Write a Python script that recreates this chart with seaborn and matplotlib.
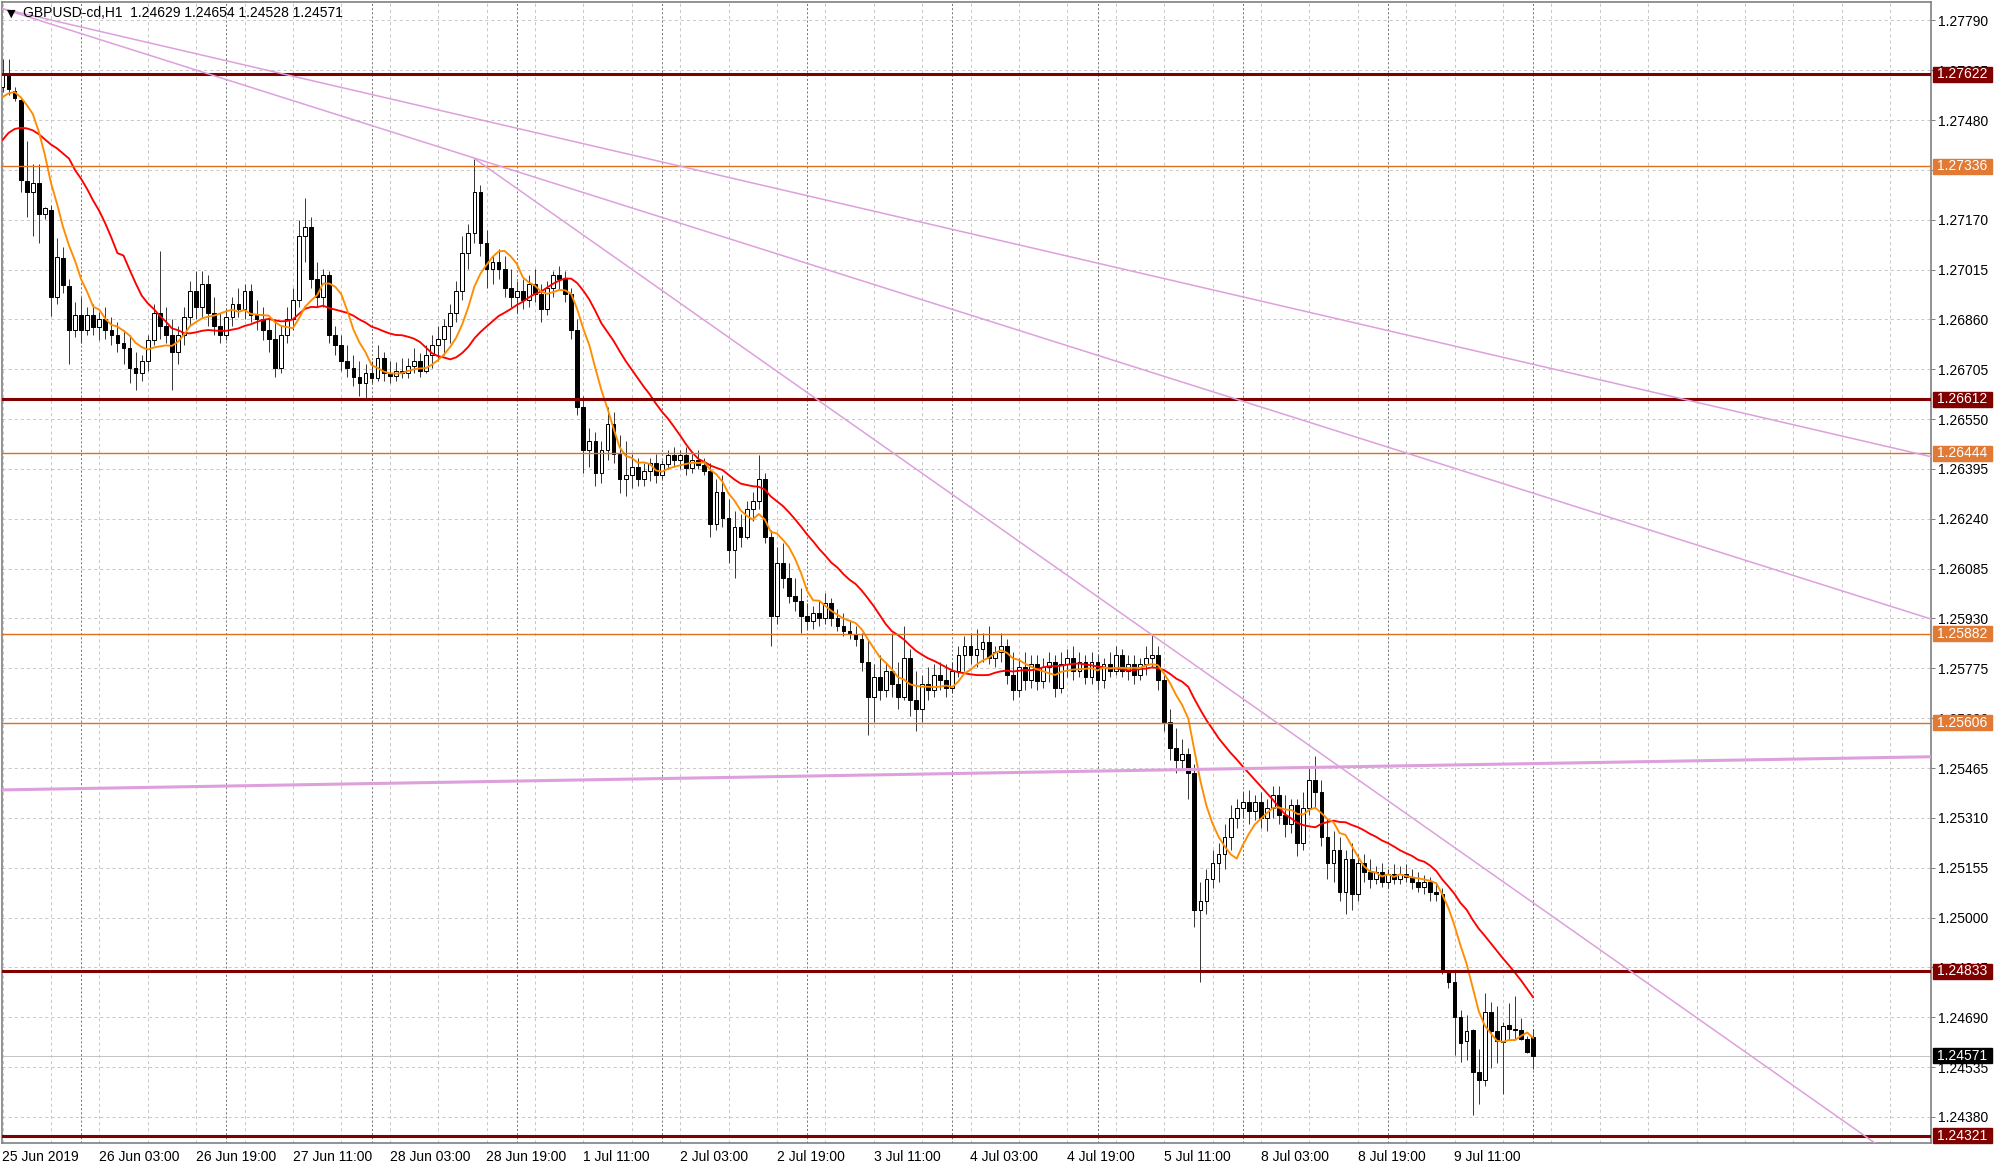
import numpy as np
import pandas as pd
import matplotlib
matplotlib.use("Agg")
import matplotlib.pyplot as plt
import matplotlib.transforms as mtransforms
from matplotlib.patches import Rectangle
import seaborn as sns

# ---------------- data ----------------
chart_title = "GBPUSD-cd,H1  1.24629 1.24654 1.24528 1.24571"
start_time = "2019-06-25 11:00"
end_time = "2019-07-10 00:00"

opens = [1.27583, 1.27626, 1.27571, 1.27543, 1.27289, 1.27257, 1.27285, 1.27189, 1.27201, 1.26931,
         1.27050, 1.26963, 1.26828, 1.26875, 1.26828, 1.26875, 1.26836, 1.26860, 1.26828, 1.26812,
         1.26788, 1.26772, 1.26708, 1.26693, 1.26732, 1.26796, 1.26880, 1.26840, 1.26812, 1.26760,
         1.26812, 1.26867, 1.26947, 1.26899, 1.26971, 1.26880, 1.26840, 1.26812, 1.26867, 1.26907,
         1.26891, 1.26947, 1.26875, 1.26860, 1.26828, 1.26800, 1.26708, 1.26812, 1.26860, 1.26919,
         1.27118, 1.27146, 1.26987, 1.26931, 1.26999, 1.26812, 1.26780, 1.26732, 1.26708, 1.26681,
         1.26661, 1.26693, 1.26677, 1.26740, 1.26693, 1.26685, 1.26701, 1.26693, 1.26716, 1.26732,
         1.26701, 1.26748, 1.26780, 1.26800, 1.26840, 1.26880, 1.26947, 1.27066, 1.27130, 1.27257,
         1.27098, 1.27018, 1.27038, 1.27018, 1.26959, 1.26931, 1.26947, 1.26919, 1.26971, 1.26939,
         1.26891, 1.26959, 1.26999, 1.26987, 1.26939, 1.26828, 1.26589, 1.26454, 1.26482, 1.26383,
         1.26454, 1.26534, 1.26442, 1.26363, 1.26375, 1.26402, 1.26363, 1.26390, 1.26414, 1.26375,
         1.26410, 1.26438, 1.26422, 1.26438, 1.26398, 1.26422, 1.26406, 1.26390, 1.26224, 1.26323,
         1.26244, 1.26144, 1.26216, 1.26184, 1.26271, 1.26295, 1.26363, 1.26184, 1.25938, 1.26104,
         1.26057, 1.26001, 1.25985, 1.25938, 1.25922, 1.25946, 1.25930, 1.25977, 1.25930, 1.25906,
         1.25890, 1.25882, 1.25866, 1.25794, 1.25687, 1.25747, 1.25707, 1.25767, 1.25727, 1.25687,
         1.25806, 1.25675, 1.25648, 1.25727, 1.25707, 1.25755, 1.25739, 1.25715, 1.25767, 1.25818,
         1.25846, 1.25818, 1.25834, 1.25858, 1.25806, 1.25826, 1.25846, 1.25755, 1.25707, 1.25779,
         1.25739, 1.25787, 1.25735, 1.25779, 1.25794, 1.25715, 1.25787, 1.25806, 1.25767, 1.25794,
         1.25747, 1.25794, 1.25739, 1.25787, 1.25767, 1.25818, 1.25767, 1.25787, 1.25755, 1.25787,
         1.25806, 1.25818, 1.25739, 1.25608, 1.25528, 1.25489, 1.25509, 1.25449, 1.25024, 1.25052,
         1.25119, 1.25171, 1.25199, 1.25250, 1.25310, 1.25342, 1.25358, 1.25330, 1.25358, 1.25310,
         1.25342, 1.25381, 1.25318, 1.25290, 1.25350, 1.25231, 1.25342, 1.25429, 1.25389, 1.25250,
         1.25171, 1.25211, 1.25080, 1.25183, 1.25072, 1.25171, 1.25143, 1.25119, 1.25143, 1.25111,
         1.25135, 1.25119, 1.25135, 1.25127, 1.25111, 1.25096, 1.25111, 1.25080, 1.25072, 1.24829,
         1.24801, 1.24692, 1.24617, 1.24650, 1.24521, 1.24495, 1.24707, 1.24647, 1.24614, 1.24666,
         1.24654, 1.24650, 1.24621, 1.24629]

highs = [1.27670, 1.27670, 1.27583, 1.27551, 1.27416, 1.27344, 1.27344, 1.27209, 1.27217, 1.27114,
         1.27086, 1.26987, 1.26915, 1.26931, 1.26899, 1.26907, 1.26883, 1.26899, 1.26867, 1.26852,
         1.26828, 1.26812, 1.26760, 1.26748, 1.26812, 1.26907, 1.27074, 1.26899, 1.26860, 1.26840,
         1.26899, 1.26979, 1.27011, 1.27011, 1.26999, 1.26931, 1.26880, 1.26891, 1.26931, 1.26959,
         1.26971, 1.26971, 1.26919, 1.26899, 1.26867, 1.26860, 1.26840, 1.26899, 1.26959, 1.27169,
         1.27237, 1.27177, 1.27038, 1.27018, 1.27011, 1.26840, 1.26812, 1.26780, 1.26748, 1.26732,
         1.26720, 1.26732, 1.26780, 1.26760, 1.26732, 1.26728, 1.26740, 1.26740, 1.26772, 1.26756,
         1.26780, 1.26812, 1.26840, 1.26860, 1.26907, 1.26979, 1.27118, 1.27158, 1.27360, 1.27277,
         1.27138, 1.27058, 1.27078, 1.27058, 1.27018, 1.26979, 1.26987, 1.26999, 1.27018, 1.26971,
         1.26979, 1.27011, 1.27026, 1.27011, 1.26959, 1.26860, 1.26621, 1.26522, 1.26510, 1.26482,
         1.26589, 1.26573, 1.26502, 1.26482, 1.26442, 1.26430, 1.26414, 1.26430, 1.26442, 1.26422,
         1.26454, 1.26462, 1.26454, 1.26462, 1.26442, 1.26454, 1.26430, 1.26414, 1.26363, 1.26375,
         1.26303, 1.26263, 1.26256, 1.26295, 1.26323, 1.26438, 1.26383, 1.26204, 1.26152, 1.26164,
         1.26104, 1.26057, 1.26025, 1.25977, 1.25969, 1.25985, 1.26009, 1.25993, 1.25961, 1.25946,
         1.25926, 1.25906, 1.25886, 1.25866, 1.25787, 1.25818, 1.25794, 1.25886, 1.25794, 1.25906,
         1.25834, 1.25767, 1.25755, 1.25779, 1.25787, 1.25794, 1.25787, 1.25794, 1.25846, 1.25874,
         1.25886, 1.25898, 1.25886, 1.25906, 1.25846, 1.25886, 1.25866, 1.25826, 1.25806, 1.25826,
         1.25818, 1.25818, 1.25806, 1.25826, 1.25818, 1.25826, 1.25834, 1.25846, 1.25826, 1.25818,
         1.25826, 1.25818, 1.25806, 1.25826, 1.25846, 1.25834, 1.25818, 1.25818, 1.25806, 1.25846,
         1.25878, 1.25846, 1.25755, 1.25648, 1.25588, 1.25556, 1.25528, 1.25477, 1.25111, 1.25151,
         1.25211, 1.25231, 1.25290, 1.25350, 1.25370, 1.25389, 1.25397, 1.25381, 1.25389, 1.25370,
         1.25409, 1.25409, 1.25381, 1.25370, 1.25370, 1.25389, 1.25469, 1.25501, 1.25429, 1.25310,
         1.25270, 1.25250, 1.25211, 1.25231, 1.25199, 1.25199, 1.25183, 1.25159, 1.25171, 1.25151,
         1.25167, 1.25159, 1.25167, 1.25151, 1.25143, 1.25131, 1.25127, 1.25111, 1.25092, 1.24837,
         1.24832, 1.24714, 1.24697, 1.24655, 1.24590, 1.24764, 1.24738, 1.24725, 1.24676, 1.24733,
         1.24756, 1.24687, 1.24632, 1.24654]

lows = [1.27567, 1.27559, 1.27539, 1.27257, 1.27177, 1.27118, 1.27098, 1.27173, 1.26871, 1.26907,
        1.26943, 1.26720, 1.26804, 1.26788, 1.26812, 1.26812, 1.26796, 1.26800, 1.26780, 1.26760,
        1.26720, 1.26661, 1.26641, 1.26669, 1.26701, 1.26780, 1.26800, 1.26788, 1.26641, 1.26720,
        1.26780, 1.26840, 1.26860, 1.26867, 1.26840, 1.26812, 1.26788, 1.26796, 1.26840, 1.26867,
        1.26860, 1.26852, 1.26828, 1.26796, 1.26760, 1.26681, 1.26693, 1.26788, 1.26828, 1.26899,
        1.27038, 1.26959, 1.26899, 1.26899, 1.26788, 1.26748, 1.26701, 1.26681, 1.26653, 1.26621,
        1.26613, 1.26661, 1.26669, 1.26669, 1.26661, 1.26669, 1.26677, 1.26677, 1.26693, 1.26681,
        1.26693, 1.26708, 1.26732, 1.26748, 1.26788, 1.26852, 1.26919, 1.27018, 1.27098, 1.27058,
        1.26959, 1.26971, 1.26987, 1.26931, 1.26899, 1.26880, 1.26891, 1.26899, 1.26915, 1.26852,
        1.26875, 1.26931, 1.26955, 1.26915, 1.26800, 1.26562, 1.26383, 1.26402, 1.26343, 1.26351,
        1.26422, 1.26414, 1.26319, 1.26311, 1.26335, 1.26343, 1.26343, 1.26359, 1.26351, 1.26363,
        1.26394, 1.26402, 1.26394, 1.26375, 1.26383, 1.26394, 1.26375, 1.26184, 1.26204, 1.26216,
        1.26104, 1.26057, 1.26152, 1.26176, 1.26232, 1.26271, 1.26164, 1.25846, 1.25914, 1.26025,
        1.25977, 1.25953, 1.25886, 1.25898, 1.25898, 1.25906, 1.25914, 1.25906, 1.25890, 1.25874,
        1.25866, 1.25846, 1.25767, 1.25568, 1.25608, 1.25675, 1.25687, 1.25687, 1.25648, 1.25675,
        1.25628, 1.25580, 1.25608, 1.25675, 1.25687, 1.25707, 1.25687, 1.25699, 1.25747, 1.25767,
        1.25787, 1.25779, 1.25794, 1.25787, 1.25779, 1.25794, 1.25727, 1.25675, 1.25687, 1.25707,
        1.25715, 1.25707, 1.25715, 1.25731, 1.25687, 1.25699, 1.25747, 1.25739, 1.25747, 1.25727,
        1.25727, 1.25707, 1.25715, 1.25747, 1.25755, 1.25747, 1.25739, 1.25727, 1.25739, 1.25755,
        1.25779, 1.25707, 1.25580, 1.25489, 1.25449, 1.25461, 1.25370, 1.24972, 1.24801, 1.25012,
        1.25092, 1.25111, 1.25151, 1.25211, 1.25278, 1.25310, 1.25290, 1.25302, 1.25278, 1.25270,
        1.25310, 1.25290, 1.25250, 1.25262, 1.25191, 1.25211, 1.25318, 1.25342, 1.25223, 1.25119,
        1.25111, 1.25052, 1.25012, 1.25024, 1.25052, 1.25111, 1.25092, 1.25103, 1.25096, 1.25092,
        1.25103, 1.25103, 1.25111, 1.25088, 1.25080, 1.25072, 1.25052, 1.25052, 1.24825, 1.24780,
        1.24572, 1.24552, 1.24557, 1.24386, 1.24419, 1.24476, 1.24531, 1.24549, 1.24451, 1.24619,
        1.24619, 1.24619, 1.24580, 1.24528]

closes = [1.27626, 1.27575, 1.27547, 1.27293, 1.27257, 1.27285, 1.27189, 1.27205, 1.26931, 1.27054,
          1.26967, 1.26828, 1.26875, 1.26828, 1.26875, 1.26836, 1.26860, 1.26828, 1.26812, 1.26788,
          1.26772, 1.26708, 1.26693, 1.26732, 1.26796, 1.26880, 1.26840, 1.26812, 1.26760, 1.26812,
          1.26867, 1.26947, 1.26899, 1.26971, 1.26880, 1.26840, 1.26812, 1.26867, 1.26907, 1.26891,
          1.26947, 1.26875, 1.26860, 1.26828, 1.26800, 1.26708, 1.26812, 1.26860, 1.26919, 1.27118,
          1.27146, 1.26987, 1.26931, 1.26999, 1.26812, 1.26780, 1.26732, 1.26708, 1.26681, 1.26661,
          1.26693, 1.26677, 1.26740, 1.26693, 1.26685, 1.26701, 1.26693, 1.26716, 1.26732, 1.26701,
          1.26748, 1.26780, 1.26800, 1.26840, 1.26880, 1.26947, 1.27066, 1.27130, 1.27257, 1.27098,
          1.27018, 1.27038, 1.27018, 1.26959, 1.26931, 1.26947, 1.26919, 1.26971, 1.26939, 1.26891,
          1.26959, 1.26999, 1.26987, 1.26939, 1.26828, 1.26589, 1.26454, 1.26482, 1.26383, 1.26454,
          1.26534, 1.26442, 1.26363, 1.26375, 1.26402, 1.26363, 1.26390, 1.26414, 1.26375, 1.26410,
          1.26438, 1.26422, 1.26438, 1.26398, 1.26422, 1.26406, 1.26390, 1.26224, 1.26323, 1.26244,
          1.26144, 1.26216, 1.26184, 1.26271, 1.26295, 1.26363, 1.26184, 1.25938, 1.26104, 1.26057,
          1.26001, 1.25985, 1.25938, 1.25922, 1.25946, 1.25930, 1.25977, 1.25930, 1.25906, 1.25890,
          1.25882, 1.25866, 1.25794, 1.25687, 1.25747, 1.25707, 1.25767, 1.25727, 1.25687, 1.25806,
          1.25675, 1.25648, 1.25727, 1.25707, 1.25755, 1.25739, 1.25715, 1.25767, 1.25818, 1.25846,
          1.25818, 1.25834, 1.25858, 1.25806, 1.25826, 1.25846, 1.25755, 1.25707, 1.25779, 1.25739,
          1.25787, 1.25735, 1.25779, 1.25794, 1.25715, 1.25787, 1.25806, 1.25767, 1.25794, 1.25747,
          1.25794, 1.25739, 1.25787, 1.25767, 1.25818, 1.25767, 1.25787, 1.25755, 1.25787, 1.25806,
          1.25818, 1.25739, 1.25608, 1.25528, 1.25489, 1.25509, 1.25449, 1.25024, 1.25052, 1.25119,
          1.25171, 1.25199, 1.25250, 1.25310, 1.25342, 1.25358, 1.25330, 1.25358, 1.25310, 1.25342,
          1.25381, 1.25318, 1.25290, 1.25350, 1.25231, 1.25342, 1.25429, 1.25389, 1.25250, 1.25171,
          1.25211, 1.25080, 1.25183, 1.25072, 1.25171, 1.25143, 1.25119, 1.25143, 1.25111, 1.25135,
          1.25119, 1.25135, 1.25127, 1.25111, 1.25096, 1.25111, 1.25080, 1.25072, 1.24837, 1.24801,
          1.24692, 1.24611, 1.24648, 1.24521, 1.24495, 1.24707, 1.24647, 1.24617, 1.24664, 1.24653,
          1.24650, 1.24621, 1.24583, 1.24571]

fast_period = 8
slow_period = 21
# indicator values at the left edge (they depend on bars before the visible window)
fast_ma_head = [1.27551, 1.27563, 1.27567, 1.27551, 1.27527, 1.27499, 1.27444]
slow_ma_head = [1.27418, 1.27440, 1.27452, 1.27456, 1.27454, 1.27448, 1.27436, 1.27420, 1.27404, 1.27392,
                1.27376, 1.27360, 1.27324, 1.27297, 1.27265, 1.27229, 1.27197, 1.27158, 1.27114, 1.27066]

major_levels = [1.27622, 1.26612, 1.24833, 1.24321]
minor_levels = [1.27336, 1.26444, 1.25882, 1.25606]
current_price = 1.24571

# trend lines: (start bar, anchor1 (bar, price), anchor2 (bar, price), thick?)
trend_lines = [
    (-1, (0, 1.27826), (300, 1.26515), False),
    (-1, (0, 1.27826), (300, 1.26040), False),
    (78, (78, 1.27360), (190, 1.25879), False),
    (-1, (0, 1.25397), (300, 1.25494), True),
]

price_ticks = [1.24380, 1.24535, 1.24690, 1.24845, 1.25000, 1.25155, 1.25310, 1.25465, 1.25620,
               1.25775, 1.25930, 1.26085, 1.26240, 1.26395, 1.26550, 1.26705, 1.26860, 1.27015,
               1.27170, 1.27325, 1.27480, 1.27635, 1.27790]
hidden_tick_labels = [1.27325]   # fully covered by the 1.27336 level box in the original

# ---------------- style ----------------
sns.set_style("white")
plt.rcParams['font.family'] = ['DejaVu Sans Condensed', 'Liberation Sans', 'DejaVu Sans']
plt.rcParams['lines.scale_dashes'] = False

W, H = 2000, 1169
fig = plt.figure(figsize=(W / 100, H / 100), dpi=100)
ax_left, ax_right, ax_top, ax_bottom = 2, 1931, 2, 1143
ax = fig.add_axes([ax_left / W, (H - ax_bottom) / H, (ax_right - ax_left) / W, (ax_bottom - ax_top) / H])

times = pd.date_range(start_time, end_time, freq="h")
times = times[times.dayofweek < 5]
n = len(closes)
idx = np.arange(n)

o = np.array(opens); h = np.array(highs); l = np.array(lows); c = np.array(closes)

bar_px = 6.05
x0 = (ax_left - 2.5) / bar_px
x1 = x0 + (ax_right - ax_left) / bar_px
y_lo, y_hi = 1.24299, 1.27847
ax.set_xlim(x0, x1)
ax.set_ylim(y_lo, y_hi)

px = 0.72  # one pixel in points

# grid
grid_col = '#C8C8C8'
for p in price_ticks:
    ax.axhline(p, color=grid_col, lw=px, ls=(0, (2.2, 2.2)), zorder=0.5)
for i in range(0, int(x1) + 8, 8):
    ax.axvline(i, color=grid_col, lw=px, ls=(0, (2.2, 2.2)), zorder=0.5)
day_sep = [i for i, t in enumerate(times) if t.hour == 0]
for i in day_sep:
    ax.axvline(i, color='#7A7A7A', lw=px, ls=(0, (1.5, 1.5)), zorder=0.6)

# current price line
ax.axhline(current_price, color='#C4C4C4', lw=px, zorder=0.7)

# candles
ax.vlines(idx, l, h, color='#3C3C3C', lw=px, zorder=2)
up = c >= o
body_b = np.minimum(o, c)
body_h = np.maximum(np.abs(c - o), 0.00003)
ax.bar(idx[up], body_h[up], bottom=body_b[up], width=0.62, facecolor='white',
       edgecolor='black', linewidth=px, zorder=3)
ax.bar(idx[~up], body_h[~up], bottom=body_b[~up], width=0.62, facecolor='black',
       edgecolor='black', linewidth=px, zorder=3)

# moving averages
cs = pd.Series(c)
fast = cs.rolling(fast_period).mean().to_numpy()
fast[:fast_period - 1] = fast_ma_head
slow = cs.rolling(slow_period).mean().to_numpy()
slow[:slow_period - 1] = slow_ma_head
sns.lineplot(x=idx, y=slow, color='#FF0000', lw=1.35, ax=ax, estimator=None, zorder=4)
sns.lineplot(x=idx, y=fast, color='#FF8C00', lw=1.35, ax=ax, estimator=None, zorder=4)

# horizontal levels
maroon = '#800000'
orange = '#E0701E'
for p in major_levels:
    ax.axhline(p, color=maroon, lw=2.2, zorder=5)
for p in minor_levels:
    ax.axhline(p, color=orange, lw=1.0, zorder=5)

# trend lines
plum = '#DDA0DD'
for start, (xa, ya), (xb, yb), thick in trend_lines:
    slope = (yb - ya) / (xb - xa)
    xs = np.array([start, x1 + 5])
    ys = ya + slope * (xs - xa)
    ax.plot(xs, ys, color=plum, lw=2.2 if thick else 1.1, zorder=5.5)

# axes look
for s in ax.spines.values():
    s.set_color('#808080')
    s.set_linewidth(1.2)
ax.yaxis.tick_right()
ax.set_yticks(price_ticks)
ax.set_yticklabels(["" if p in hidden_tick_labels else f"{p:.5f}" for p in price_ticks])
ax.tick_params(axis='y', length=4 * px, width=px, color='#808080', pad=2, labelsize=10,
               labelcolor='black')
lab_pos = list(range(0, n, 16))
lab_txt = []
for k, i in enumerate(lab_pos):
    t = times[i]
    lab_txt.append(t.strftime('%-d %b %Y') if k == 0 else t.strftime('%-d %b %H:%M'))
ax.set_xticks(lab_pos)
ax.set_xticklabels(lab_txt, ha='left')
ax.tick_params(axis='x', length=4 * px, width=px, color='#606060', pad=2, labelsize=10,
               labelcolor='black')
ax.set_xlabel('')
ax.set_ylabel('')
ax.grid(False)

# level price boxes on the price axis
trans = mtransforms.blended_transform_factory(ax.transAxes, ax.transData)
bx0 = (1933 - ax_left) / (ax_right - ax_left)
bx1 = (1992 - ax_left) / (ax_right - ax_left)
hh = 7.5 * (y_hi - y_lo) / (ax_bottom - ax_top)
boxes = [(p, maroon) for p in major_levels] + [(p, '#E07A35') for p in minor_levels] + [(current_price, 'black')]
for p, col in boxes:
    ax.add_patch(Rectangle((bx0, p - hh), bx1 - bx0, 2 * hh, transform=trans, facecolor=col,
                           edgecolor=col, clip_on=False, zorder=10))
    ax.text((bx0 + bx1) / 2, p, f"{p:.5f}", transform=trans, color='white', ha='center',
            va='center', fontsize=10, zorder=11, clip_on=False)

# title
fig.text(7 / W, 1 - 13.5 / H, '\u25BC', fontsize=8, va='center', ha='left', color='black',
         family=['DejaVu Sans'])
fig.text(23 / W, 1 - 13.3 / H, chart_title, fontsize=10, va='center', ha='left', color='black')

fig.savefig('out.png', dpi=100, facecolor='white')
